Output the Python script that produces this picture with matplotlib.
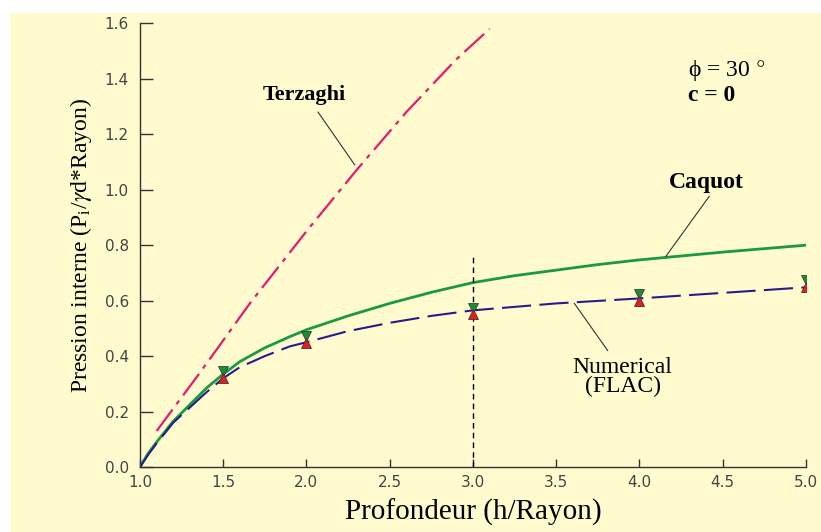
import matplotlib.pyplot as plt
from matplotlib.patches import Rectangle

# Data
terzaghi_x = [1.1, 1.36, 1.66, 2.0, 2.3, 2.6, 2.9, 3.1]
terzaghi_y = [0.13, 0.34, 0.59, 0.85, 1.07, 1.28, 1.47, 1.58]

caquot_x = [1.0, 1.05, 1.1, 1.2, 1.3, 1.4, 1.5, 1.6, 1.75, 1.9, 2.0, 2.25, 2.5,
            2.75, 3.0, 3.25, 3.5, 3.75, 4.0, 4.5, 5.0]
caquot_y = [0.0, 0.05, 0.09, 0.165, 0.225, 0.285, 0.335, 0.38, 0.43, 0.47, 0.495,
            0.545, 0.59, 0.63, 0.665, 0.69, 0.71, 0.73, 0.747, 0.775, 0.80]

flac_x = [1.0, 1.05, 1.1, 1.2, 1.3, 1.4, 1.5, 1.6, 1.75, 1.9, 2.0, 2.25, 2.5,
          2.75, 3.0, 3.5, 4.0, 4.5, 5.0]
flac_y = [0.0, 0.045, 0.085, 0.16, 0.215, 0.27, 0.32, 0.36, 0.40, 0.435, 0.45,
          0.49, 0.52, 0.545, 0.565, 0.59, 0.608, 0.628, 0.648]

marker_x = [1.5, 2.0, 3.0, 4.0, 5.0]
green_y = [0.345, 0.473, 0.575, 0.625, 0.673]
red_y = [0.32, 0.449, 0.551, 0.599, 0.649]

xticks = [1.0, 1.5, 2.0, 2.5, 3.0, 3.5, 4.0, 4.5, 5.0]
yticks = [0.0, 0.2, 0.4, 0.6, 0.8, 1.0, 1.2, 1.4, 1.6]

plt.rcParams['mathtext.fontset'] = 'stix'
serif = 'Liberation Serif'
bg = '#FFFBCF'

fig = plt.figure(figsize=(8.21, 5.32), dpi=100, facecolor='white')
# yellow panel behind the chart
fig.patches.append(Rectangle((10 / 821, 0), 1, 1 - 13 / 532, transform=fig.transFigure,
                             facecolor=bg, edgecolor='none', zorder=-1))

ax = fig.add_axes([0.1705, 0.1222, 0.8109, 0.8338])
ax.set_facecolor('none')

ax.plot(terzaghi_x, terzaghi_y, color='#E5196E', lw=1.6, dashes=(12, 3, 2, 3))
ax.plot(caquot_x, caquot_y, color='#1A9A40', lw=2.0)
ax.plot(flac_x, flac_y, color='#2A1A8A', lw=1.5, dashes=(14, 4))

# vertical marker at h/R = 3
ax.plot([3.0, 3.0], [0.0, 0.77], color='black', lw=1, dashes=(4, 3))

ax.plot(marker_x, green_y, linestyle='none', marker='v', markersize=7,
        markerfacecolor='#1E8A3C', markeredgecolor='#334433', markeredgewidth=0.6)
ax.plot(marker_x, red_y, linestyle='none', marker='^', markersize=7,
        markerfacecolor='#E02020', markeredgecolor='#443333', markeredgewidth=0.6)

# annotations
ax.text(1.99, 1.34, 'Terzaghi', family=serif, fontsize=16, fontweight='bold',
        ha='center', va='center')
ax.plot([2.07, 2.29], [1.28, 1.09], color='#333333', lw=0.8)

ax.text(4.40, 1.025, 'Caquot', family=serif, fontsize=17, fontweight='bold',
        ha='center', va='center')
ax.plot([4.42, 4.16], [0.976, 0.76], color='#333333', lw=0.8)

ax.text(3.90, 0.36, 'Numerical', family=serif, fontsize=17, ha='center', va='center')
ax.text(3.90, 0.29, '(FLAC)', family=serif, fontsize=17, ha='center', va='center')
ax.plot([3.81, 3.61], [0.42, 0.59], color='#333333', lw=0.8)

ax.text(4.29, 1.43, r'$\mathregular{\phi}$ = 30 $\degree$', family=serif, fontsize=17,
        ha='left', va='center')
ax.text(4.29, 1.34, 'c = 0', family=serif, fontsize=17, fontweight='bold',
        ha='left', va='center')

ax.set_xlim(1.0, 5.0)
ax.set_ylim(0.0, 1.6)
ax.set_xticks(xticks)
ax.set_yticks(yticks)
ax.set_xticklabels(['%.1f' % v for v in xticks])
ax.set_yticklabels(['%.1f' % v for v in yticks])
ax.tick_params(axis='x', direction='in', length=6, width=1, color='#333333',
               labelsize=11, labelcolor='#444444', pad=6)
ax.tick_params(axis='y', direction='in', length=9, width=1, color='#333333',
               labelsize=11, labelcolor='#444444', pad=8)
for side in ['top', 'right']:
    ax.spines[side].set_visible(False)
for side in ['left', 'bottom']:
    ax.spines[side].set_color('#333333')
    ax.spines[side].set_linewidth(1)

ax.set_xlabel('Profondeur (h/Rayon)', family=serif, fontsize=21, labelpad=6)
ax.set_ylabel(r'Pression interne (P$_\mathregular{i}$/$\gamma$d*Rayon)', family=serif,
              fontsize=17, labelpad=8)

fig.savefig('out.png', dpi=100, facecolor='white')
